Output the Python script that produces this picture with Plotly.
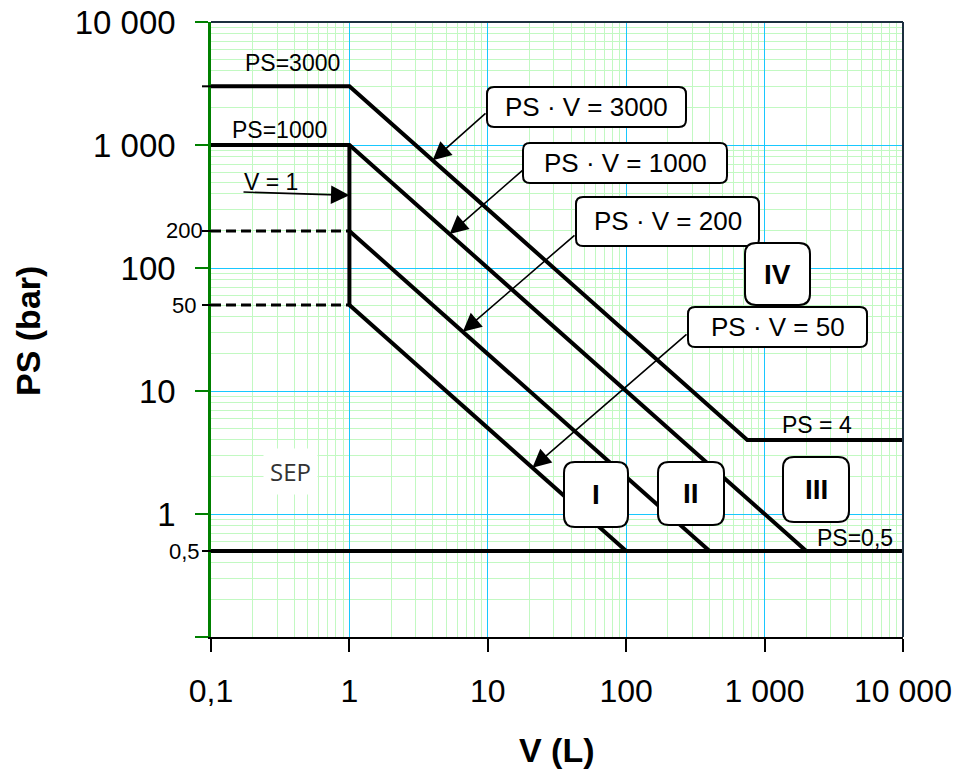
import math
import plotly.graph_objects as go

# ---------------- data ----------------
V_ps3000 = [0.1, 1, 750, 10000]
PS_ps3000 = [3000, 3000, 4, 4]
V_ps1000 = [0.1, 1, 2000]
PS_ps1000 = [1000, 1000, 0.5]
V_pv200 = [1, 400]
PS_pv200 = [200, 0.5]
V_pv50 = [1, 100]
PS_pv50 = [50, 0.5]
V_v1 = [1, 1]
PS_v1 = [1000, 50]
V_ps05 = [0.1, 10000]
PS_ps05 = [0.5, 0.5]
V_dash = [0.1, 1]
PS_dash200 = [200, 200]
PS_dash50 = [50, 50]

x_tickvals = [0.1, 1, 10, 100, 1000, 10000]
x_ticktext = ["0,1", "1", "10", "100", "1 000", "10 000"]
y_tickvals = [0.1, 1, 10, 100, 1000, 10000]
y_ticktext = ["", "1", "10", "100", "1 000", "10 000"]
y_small_vals = [200, 50, 0.5]
y_small_text = ["200", "50", "0,5"]
y_extra_ticks = [3000, 200, 50, 0.5]

# arrow targets (V, PS) on the curves
arrow_heads = {"3000": (4, 750), "1000": (5.3, 1000 / 5.3), "200": (6.6, 200 / 6.6),
               "50": (21, 50 / 21), "v1": (1, 390)}

# ---------------- layout geometry ----------------
W, H = 965, 774
L, R, T, B = 211, 62, 22, 137
PW, PH = W - L - R, H - T - B
X0, X1 = -1, 4
Y0, Y1 = -1, 4

def xpix(v):
    return L + PW * (math.log10(v) - X0) / (X1 - X0)

def ypix(p):
    return T + PH - PH * (math.log10(p) - Y0) / (Y1 - Y0)

def pp(px, py):
    return (px - L) / PW, (T + PH - py) / PH

def rrect(x0, y0, x1, y1, r):
    def P(x, y):
        a, b = pp(x, y)
        return f"{a:.5f},{b:.5f}"
    d = (f"M{P(x0 + r, y0)} L{P(x1 - r, y0)} Q{P(x1, y0)} {P(x1, y0 + r)} "
         f"L{P(x1, y1 - r)} Q{P(x1, y1)} {P(x1 - r, y1)} L{P(x0 + r, y1)} "
         f"Q{P(x0, y1)} {P(x0, y1 - r)} L{P(x0, y0 + r)} Q{P(x0, y0)} {P(x0 + r, y0)} Z")
    return d

FONT = "Liberation Sans, Arial, sans-serif"

fig = go.Figure()
thick = dict(color="black", width=4)
for xs, ys in [(V_ps3000, PS_ps3000), (V_ps1000, PS_ps1000), (V_pv200, PS_pv200),
               (V_pv50, PS_pv50), (V_v1, PS_v1), (V_ps05, PS_ps05)]:
    fig.add_trace(go.Scatter(x=xs, y=ys, mode="lines", line=thick,
                             showlegend=False, hoverinfo="skip"))
for ys in [PS_dash200, PS_dash50]:
    fig.add_trace(go.Scatter(x=V_dash, y=ys, mode="lines",
                             line=dict(color="black", width=3, dash="10px,5px"),
                             showlegend=False, hoverinfo="skip"))

minor_vals = [k * 10 ** n for n in range(-1, 4) for k in range(2, 10)]

fig.update_xaxes(type="log", range=[X0, X1], tickmode="array", tickvals=x_tickvals,
                 ticktext=x_ticktext, ticks="outside", ticklen=13, tickwidth=2,
                 tickcolor="black", showline=True, linecolor="black", linewidth=2,
                 showgrid=True, gridcolor="#18C8FF", gridwidth=1.3, zeroline=False,
                 tickfont=dict(family=FONT, size=32, color="black"),
                 ticklabelstandoff=12,
                 minor=dict(tickmode="array", tickvals=minor_vals, showgrid=True,
                            gridcolor="#C2F9C2", gridwidth=1.4, ticks=""))
fig.update_yaxes(type="log", range=[Y0, Y1], tickmode="array", tickvals=y_tickvals,
                 ticktext=y_ticktext, ticks="outside", ticklen=13, tickwidth=2,
                 tickcolor="#008000", showline=True, linecolor="#008000", linewidth=2.5,
                 showgrid=True, gridcolor="#18C8FF", gridwidth=1.3, zeroline=False,
                 tickfont=dict(family=FONT, size=33, color="black"),
                 ticklabelstandoff=13,
                 minor=dict(tickmode="array", tickvals=minor_vals, showgrid=True,
                            gridcolor="#C2F9C2", gridwidth=1.4, ticks=""))

shapes = []
# top and right frame
shapes.append(dict(type="line", xref="paper", yref="paper", x0=0, x1=1, y0=1, y1=1,
                   line=dict(color="#1c2f3f", width=2), layer="above"))
shapes.append(dict(type="line", xref="paper", yref="paper", x0=1, x1=1, y0=0, y1=1,
                   line=dict(color="#1c2f3f", width=2), layer="above"))
# extra black ticks
for v in y_extra_ticks:
    yy = pp(0, ypix(v))[1]
    shapes.append(dict(type="line", xref="paper", yref="paper", x0=-9 / PW, x1=0,
                       y0=yy, y1=yy, line=dict(color="black", width=2), layer="above"))

# boxes: (x0, y0, x1, y1, radius, text, bold)
boxes = [
    (487, 87, 686, 127, 7, "PS · V = 3000", False),
    (523, 143, 727, 183, 7, "PS · V = 1000", False),
    (576, 197, 759, 246, 7, "PS · V = 200", False),
    (688, 307, 867, 347, 7, "PS · V = 50", False),
    (745, 243, 810, 305, 11, "IV", True),
    (564, 462, 628, 527, 11, "I", True),
    (658, 462, 724, 525, 11, "II", True),
    (783, 457, 849, 522, 11, "III", True),
]
annotations = []
for x0, y0, x1, y1, r, txt, bold in boxes:
    shapes.append(dict(type="path", xref="paper", yref="paper", path=rrect(x0, y0, x1, y1, r),
                       fillcolor="white", line=dict(color="black", width=2), layer="above"))
    cx, cy = pp((x0 + x1) / 2, (y0 + y1) / 2)
    annotations.append(dict(xref="paper", yref="paper", x=cx, y=cy, showarrow=False,
                            text=f"<b>{txt}</b>" if bold else txt,
                            font=dict(family=FONT, size=28 if bold else 26, color="black"),
                            xanchor="center", yanchor="middle"))

# arrows: head in data, tail in pixels
tails = {"3000": (487, 112), "1000": (524, 169), "200": (576, 234), "50": (688, 333),
         "v1": (242, 192)}
for k, (hv, hp) in arrow_heads.items():
    tx, ty = tails[k]
    annotations.append(dict(x=math.log10(hv), y=math.log10(hp), xref="x", yref="y",
                            text="", showarrow=True, arrowhead=2, arrowsize=2.3,
                            arrowwidth=1.6, arrowcolor="black", standoff=0,
                            ax=tx - xpix(hv), ay=ty - ypix(hp)))

# free labels: (text, px, py, size)
labels = [("PS=3000", 292, 63, 23), ("PS=1000", 279, 130, 23), ("V = 1", 271, 182, 23),
          ("PS = 4", 817, 425, 23), ("PS=0,5", 855, 538, 23)]
for txt, px, py, s in labels:
    a, b = pp(px, py)
    annotations.append(dict(xref="paper", yref="paper", x=a, y=b, text=txt, showarrow=False,
                            font=dict(family=FONT, size=s, color="black"),
                            xanchor="center", yanchor="middle"))

a, b = pp(290, 471)
annotations.append(dict(xref="paper", yref="paper", x=a, y=b, text="SEP", showarrow=False,
                        font=dict(family="Open Sans, sans-serif", size=24, color="#333333"),
                        bgcolor="white", borderpad=6, xanchor="center", yanchor="middle"))

# small y labels
for v, t in zip(y_small_vals, y_small_text):
    annotations.append(dict(xref="paper", yref="y", x=pp(184, 0)[0], y=math.log10(v), text=t,
                            showarrow=False, font=dict(family=FONT, size=22, color="black"),
                            xanchor="center", yanchor="middle"))

# axis titles
a, b = pp(557, 750)
annotations.append(dict(xref="paper", yref="paper", x=0.5, y=b, text="<b>V (L)</b>",
                        showarrow=False, font=dict(family=FONT, size=34, color="black"),
                        xanchor="center", yanchor="middle"))
a, b = pp(28, 331)
annotations.append(dict(xref="paper", yref="paper", x=a, y=b, text="<b>PS (bar)</b>",
                        textangle=-90, showarrow=False,
                        font=dict(family=FONT, size=34, color="black"),
                        xanchor="center", yanchor="middle"))

fig.update_layout(width=W, height=H, margin=dict(l=L, r=R, t=T, b=B, autoexpand=False),
                  paper_bgcolor="white", plot_bgcolor="white", shapes=shapes,
                  annotations=annotations, showlegend=False)

fig.write_html("out.html")
